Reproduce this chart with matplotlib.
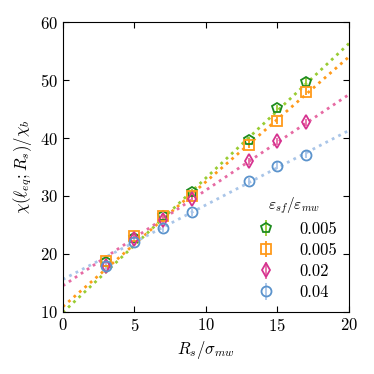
import numpy as np
import matplotlib
matplotlib.use("Agg")
import matplotlib.pyplot as plt

plt.rcParams['font.family'] = 'serif'
plt.rcParams['font.serif'] = ['cmr10']
plt.rcParams['mathtext.fontset'] = 'cm'
plt.rcParams['axes.formatter.use_mathtext'] = True

# Data
rs = [3, 5, 7, 9, 13, 15, 17]
chi_005a = [18.6, 22.8, 26.5, 30.6, 39.6, 45.1, 49.7]
chi_005b = [18.8, 23.1, 26.5, 30.0, 38.8, 43.0, 48.0]
chi_002 = [18.0, 22.6, 25.9, 29.5, 36.0, 39.4, 42.7]
chi_004 = [17.9, 22.0, 24.4, 27.2, 32.5, 35.2, 37.1]
err = 0.6

labels = ['0.005', '0.005', '0.02', '0.04']

# fitted lines: value at x=0 and x=20
fit_x = [0, 20]
fit_005a = [9.9, 56.3]
fit_005b = [10.9, 54.0]
fit_002 = [14.5, 47.5]
fit_004 = [15.6, 41.3]

series = [
    (chi_005a, fit_005a, 'p', '#1e8c1e', '#99cc33'),
    (chi_005b, fit_005b, 's', '#ff9a1a', '#ff9a1a'),
    (chi_002, fit_002, 'd', '#d63290', '#e66aa3'),
    (chi_004, fit_004, 'o', '#5b93cc', '#a9c5e8'),
]

fig = plt.figure(figsize=(3.74, 3.74), dpi=100)
ax = fig.add_axes([0.168, 0.166, 0.765, 0.775])

for (y, fit, m, c, lc) in series:
    ax.plot(fit_x, fit, linestyle=(0, (1, 1.6)), color=lc, lw=2.0, zorder=1)

for (y, fit, m, c, lc), lab in zip(series, labels):
    ax.errorbar(rs, y, yerr=err, fmt=m, ms=7.2, mfc='none', mec=c, mew=1.3,
                ecolor=lc, elinewidth=1.3, capsize=0, label=lab, zorder=3)

ax.set_xlim(0, 20)
ax.set_ylim(10, 60)
ax.set_xticks([0, 5, 10, 15, 20])
ax.set_yticks([10, 20, 30, 40, 50, 60])
ax.tick_params(direction='in', top=True, right=True, labelsize=12, length=4)
ax.set_xlabel(r'$R_s/\sigma_{mw}$', fontsize=12)
ax.set_ylabel(r'$\chi(\ell_{eq};R_s)/\chi_b$', fontsize=12)

leg = ax.legend(title=r'$\varepsilon_{sf}/\varepsilon_{mw}$', frameon=False,
                loc='lower right', fontsize=12, title_fontsize=11,
                handletextpad=1.0, borderaxespad=0.3, labelspacing=0.35)

fig.savefig('out.png', dpi=100)
